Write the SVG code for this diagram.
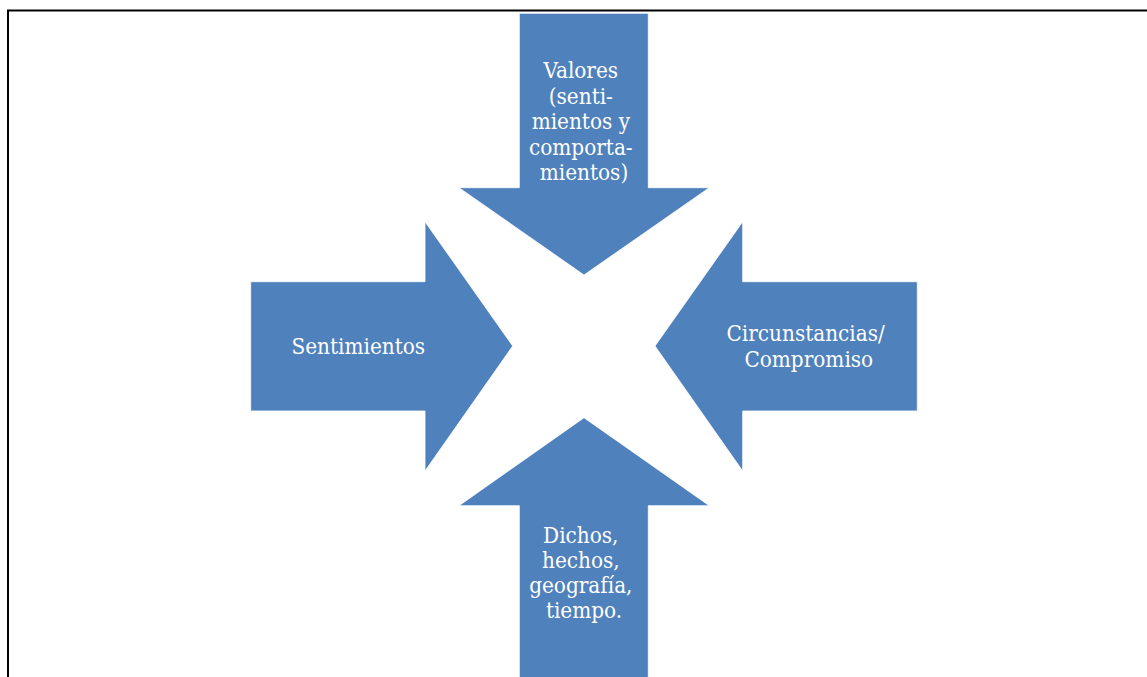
<svg xmlns="http://www.w3.org/2000/svg" width="1147" height="677" viewBox="0 0 1147 677">
  <style>
    .arrow { fill: #4F81BD; stroke: #ffffff; stroke-width: 0.8; stroke-linejoin: miter; }
    .label { font-family: "DejaVu Serif Condensed", "Liberation Serif", serif; font-stretch: condensed; font-size: 22.3px; fill: #ffffff; text-anchor: middle; }
    .frame { fill: none; stroke: #000000; stroke-width: 2; }
  </style>
  <rect width="1147" height="677" fill="#ffffff"/>
  <!-- page frame -->
  <path class="frame" d="M8 677 V10.5 H1147"/>

  <!-- four arrows converging on the centre (584, 346) -->
  <g id="node-valores">
    <path class="arrow" d="M519.3 13.3 H648.3 V187.7 H709.3 L584 275 L459 187.7 H519.3 Z"/>
    <text class="label">
      <tspan x="584" y="78">Valores</tspan>
      <tspan x="584" y="103.5">(senti-</tspan>
      <tspan x="584" y="129">mientos y</tspan>
      <tspan x="584" y="154.5">comporta-</tspan>
      <tspan x="584" y="180">mientos)</tspan>
    </text>
  </g>

  <g id="node-sentimientos">
    <path class="arrow" d="M250.7 281.7 H425 V221.7 L512.7 346 L425 471 V411 H250.7 Z"/>
    <text class="label" x="358.3" y="354">Sentimientos</text>
  </g>

  <g id="node-circunstancias">
    <path class="arrow" d="M917.3 281.7 H742.7 V221.7 L655 346 L742.7 471 V411 H917.3 Z"/>
    <text class="label">
      <tspan x="808.8" y="340.7">Circunstancias/</tspan>
      <tspan x="808.8" y="366.7">Compromiso</tspan>
    </text>
  </g>

  <g id="node-dichos">
    <path class="arrow" d="M519.3 678 V505.7 H459 L584 417.7 L709.3 505.7 H648.3 V678 Z"/>
    <text class="label">
      <tspan x="584" y="542.7">Dichos,</tspan>
      <tspan x="584" y="567.9">hechos,</tspan>
      <tspan x="584" y="593.1">geografía,</tspan>
      <tspan x="584" y="618.3">tiempo.</tspan>
    </text>
  </g>

  <!-- the arrow shapes carry the connection themselves; no separate connectors -->
  <g id="connectors"/>
</svg>
